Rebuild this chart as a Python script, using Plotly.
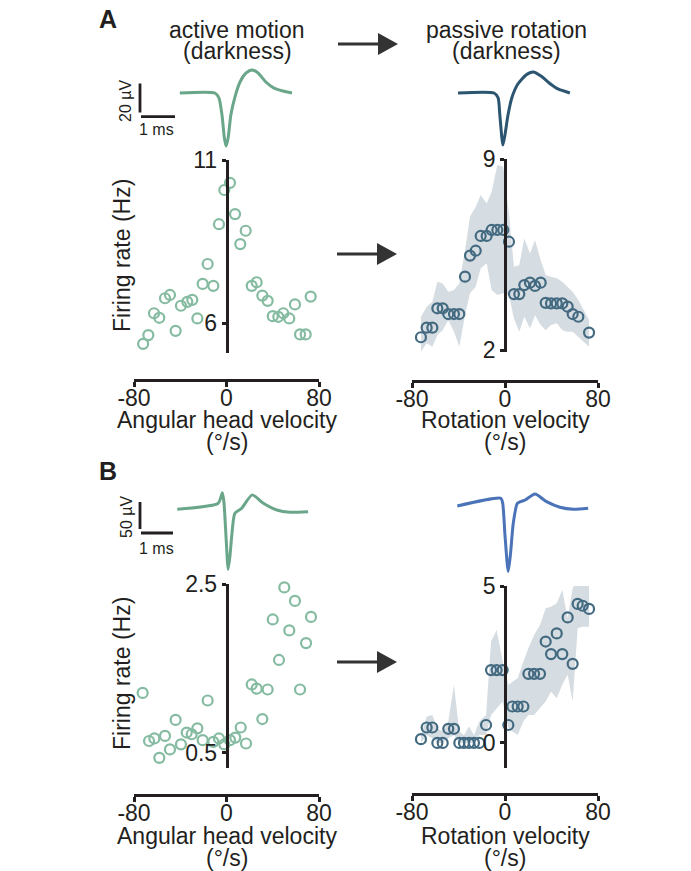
import plotly.graph_objects as go

W, H = 691, 871
INK = "#231f20"
FONT = "Liberation Sans, Arial, sans-serif"
GREEN_WF = "#6aa689"
GREEN_PT = "#85bba0"
TEAL_WF = "#2c5571"
TEAL_PT = "#436a80"
BLUE_WF = "#4a73b8"
BAND = "#d5dde2"

# ---------------- data ----------------
vel_ticks = [-80, 0, 80]
vel_tick_text = ["-80", "0", "80"]

# Panel A, active motion (darkness)
a_act_vel = [-72.1, -67.6, -62.7, -58.1, -53.2, -48.9, -44.0, -39.4, -33.9, -29.6, -25.2, -20.6,
             -16.3, -11.4, -6.5, -1.9, 3.0, 7.4, 11.9, 16.6, 21.8, 26.1, 31.0, 35.6, 40.0, 44.8,
             49.1, 54.3, 59.2, 63.6, 68.5, 72.8]
a_act_rate = [5.36, 5.63, 6.30, 6.16, 6.76, 6.86, 5.76, 6.53, 6.65, 6.71, 6.14, 7.20, 7.81, 7.14,
              9.03, 10.08, 10.30, 9.34, 8.42, 8.83, 7.14, 7.25, 6.84, 6.68, 6.21, 6.19, 6.30, 6.14,
              6.57, 5.65, 5.65, 6.81]
a_act_yticks = [6, 11]

# Panel A, passive rotation (darkness)
a_pas_vel = [-72.3, -67.4, -62.5, -58.2, -53.6, -48.8, -43.9, -39.3, -34.4, -30.1, -25.2, -20.9,
             -15.8, -11.5, -6.6, -1.5, 3.4, 7.7, 12.3, 16.6, 21.5, 25.8, 30.7, 35.0, 39.6, 44.5,
             49.3, 53.9, 58.2, 63.1, 72.3]
a_pas_rate = [2.47, 2.82, 2.82, 3.53, 3.53, 3.32, 3.32, 3.32, 4.69, 5.46, 5.64, 6.18, 6.18, 6.40,
              6.40, 6.40, 5.97, 4.05, 4.05, 4.38, 4.47, 4.35, 4.47, 3.73, 3.71, 3.71, 3.71, 3.59,
              3.32, 3.22, 2.64]
a_pas_upper = [3.22, 3.59, 3.77, 4.50, 4.44, 4.14, 4.20, 4.44, 5.67, 6.89, 7.25, 7.68, 7.37, 7.80,
               8.78, 8.72, 7.00, 5.05, 5.12, 6.09, 5.54, 6.03, 5.30, 4.75, 4.69, 4.63, 4.50, 4.32,
               4.14, 3.83, 3.10]
a_pas_lower = [1.94, 2.25, 2.12, 2.55, 2.73, 3.10, 2.67, 2.12, 3.28, 4.08, 4.32, 4.99, 5.18, 4.20,
               4.02, 4.08, 4.00, 3.16, 2.67, 3.22, 2.79, 3.28, 2.92, 2.73, 2.92, 2.98, 2.73, 2.67,
               2.67, 2.49, 2.12]
a_pas_yticks = [2, 9]

# Panel B, active motion
b_act_vel = [-72.5, -67.0, -62.4, -58.1, -53.2, -48.9, -44.0, -39.4, -34.4, -30.1, -25.2, -20.6,
             -16.3, -11.4, -6.5, -1.9, 3.0, 7.6, 12.3, 16.9, 21.8, 26.1, 31.0, 35.6, 40.0, 45.4,
             50.0, 54.3, 59.2, 63.6, 68.8, 73.1]
b_act_rate = [1.21, 0.64, 0.67, 0.44, 0.70, 0.54, 0.89, 0.60, 0.74, 0.72, 0.79, 0.65, 1.12, 0.63,
              0.67, 0.60, 0.65, 0.68, 0.80, 0.61, 1.31, 1.26, 0.90, 1.25, 2.08, 1.60, 2.46, 1.95,
              2.30, 1.25, 1.80, 2.11]
b_act_yticks = [0.5, 2.5]

# Panel B, passive rotation
b_pas_vel = [-72.3, -67.4, -62.5, -58.2, -53.6, -48.8, -43.9, -39.3, -35.3, -31.0, -26.7, -22.1,
             -16.3, -12.0, -7.2, -2.0, 2.9, 6.3, 10.9, 15.8, 20.1, 25.0, 30.1, 35.0, 39.6, 44.5,
             49.3, 53.9, 58.2, 62.5, 66.8, 72.3]
b_pas_rate = [0.12, 0.49, 0.49, 0.0, 0.0, 0.45, 0.45, 0.0, 0.0, 0.0, 0.0, 0.0, 0.57, 2.32, 2.32,
              2.32, 0.57, 1.16, 1.16, 1.16, 2.20, 2.20, 2.20, 3.23, 2.83, 3.49, 2.83, 4.00, 2.52,
              4.43, 4.37, 4.27]
b_pas_upper = [0.25, 0.84, 0.89, 0.47, 0.36, 0.68, 1.85, 0.36, 0.25, 0.52, 0.25, 0.68, 0.89, 3.23,
               3.60, 2.59, 1.85, 1.95, 2.06, 2.59, 3.02, 3.44, 3.76, 4.29, 4.34, 4.45, 4.87, 3.97,
               4.93, 5.19, 5.14, 5.08]
b_pas_lower = [0.0, 0.25, 0.15, 0.0, 0.0, 0.15, 0.25, 0.0, 0.0, 0.0, 0.0, 0.25, 0.25, 0.89, 1.10,
               1.32, 0.47, 0.36, 0.25, 0.68, 0.89, 0.89, 1.10, 1.32, 1.63, 1.42, 1.85, 2.17, 1.32,
               3.65, 3.70, 3.70]
b_pas_yticks = [0, 5]

# Spike waveforms (time in ms, amplitude in µV)
a_act_wf_t = [1.76, 2.79, 2.91, 3.00, 3.07, 3.12, 3.18, 3.26, 3.38, 3.53, 3.71, 3.88, 4.06, 4.29,
              4.53, 4.79, 5.06]
a_act_wf_uv = [0, 0, -3.4, -15.2, -31, -36.6, -31, -15.2, -2.8, 7.6, 13.8, 15.9, 13.8, 7.6, 3.4,
               1.4, 0]
a_pas_wf_t = [0.53, 1.59, 1.71, 1.76, 1.82, 1.85, 1.91, 2.00, 2.12, 2.29, 2.53, 2.74, 2.97, 3.21,
              3.47, 3.82]
a_pas_wf_uv = [0, 0, -3.4, -15.2, -31, -35.9, -29, -15.2, -2.8, 6.2, 12.4, 14.5, 11.7, 6.9, 2.8, 0]
b_act_wf_t = [1.79, 3.07, 3.20, 3.25, 3.31, 3.38, 3.44, 3.49, 3.59, 3.80, 4.13, 4.48, 4.90, 5.31,
              5.88]
b_act_wf_uv = [1.3, 12.4, 32, 13, -46, -110, -83, -49, -6, 3, 28, 12.4, 0, -4.3, -3.1]
b_pas_wf_t = [0.54, 1.90, 1.96, 2.03, 2.13, 2.20, 2.29, 2.42, 2.66, 2.97, 3.33, 3.75, 4.17, 4.63]
b_pas_wf_uv = [7.4, 21.7, 12.4, -46, -114, -83, -24.6, 12.4, 18.5, 29.6, 15.4, 5, 1.3, 3.1]

a_scale_uv, b_scale_uv, scale_ms = 20, 50, 1


# ---------------- helpers ----------------
def fx(p):
    return p / W


def fy(p):
    return 1 - p / H


fig = go.Figure()

tickfont = dict(family=FONT, size=23, color=INK)


def scatter_axes(n, xdom, x_line_y, ydom, yrange, yticks):
    xa = dict(domain=[fx(xdom[0]), fx(xdom[1])], range=[-80, 80], anchor="free",
              position=fy(x_line_y), tickvals=vel_ticks, ticktext=vel_tick_text,
              showline=True, linecolor=INK, linewidth=2.5, ticks="outside", ticklen=5,
              tickwidth=2.5, tickcolor=INK, showgrid=False, zeroline=False, tickfont=tickfont,
              fixedrange=True, automargin=False, ticklabelstandoff=-8)
    mid = (xdom[0] + xdom[1]) / 2
    ya = dict(domain=[fy(ydom[1]), fy(ydom[0])], range=yrange, anchor="free",
              position=fx(mid), tickvals=yticks, showline=True, linecolor=INK, linewidth=2.5,
              ticks="outside", ticklen=4, tickwidth=2.5, tickcolor=INK, showgrid=False,
              zeroline=False, tickfont=tickfont, fixedrange=True, automargin=False)
    s = "" if n == 1 else str(n)
    fig.update_layout(**{"xaxis" + s: xa, "yaxis" + s: ya})


def wf_axes(n, x0, width, ms_px, y_base, uv_px, top, bottom):
    xa = dict(domain=[fx(x0), fx(x0 + width)], range=[0, width / ms_px], visible=False,
              anchor="y" + str(n), fixedrange=True, automargin=False)
    ya = dict(domain=[fy(bottom), fy(top)], range=[(y_base - bottom) / uv_px, (y_base - top) / uv_px],
              visible=False, anchor="x" + str(n), fixedrange=True, automargin=False)
    fig.update_layout(**{"xaxis" + str(n): xa, "yaxis" + str(n): ya})


scatter_axes(1, (134, 319), 380, (160, 353), [5.08, 11], a_act_yticks)
scatter_axes(2, (412, 598), 381, (159, 351.7), [1.94, 9], a_pas_yticks)
scatter_axes(3, (134, 319), 795, (584, 768), [0.32, 2.5], b_act_yticks)
scatter_axes(4, (412, 598), 794, (586, 768), [-0.8, 5], b_pas_yticks)

wf_axes(5, 120, 180, 34, 93, 1.45, 60, 150)
wf_axes(6, 440, 180, 34, 93, 1.45, 60, 150)
wf_axes(7, 120, 200, 32, 510, 0.54, 480, 580)
wf_axes(8, 440, 200, 32, 510, 0.54, 480, 580)


def band(x, up, lo, xa, ya):
    fig.add_trace(go.Scatter(x=list(x) + list(x)[::-1], y=list(up) + list(lo)[::-1],
                             fill="toself", fillcolor=BAND, line=dict(width=0), mode="lines",
                             hoverinfo="skip", xaxis=xa, yaxis=ya, showlegend=False))


def pts(x, y, color, xa, ya):
    fig.add_trace(go.Scatter(x=x, y=y, mode="markers", xaxis=xa, yaxis=ya, showlegend=False,
                             cliponaxis=False,
                             marker=dict(symbol="circle-open", size=10, color=color,
                                         line=dict(width=2.2, color=color))))


def wave(t, v, color, xa, ya):
    fig.add_trace(go.Scatter(x=t, y=v, mode="lines", xaxis=xa, yaxis=ya, showlegend=False,
                             cliponaxis=False,
                             line=dict(color=color, width=3, shape="spline", smoothing=0.6)))


def bar(x, y, xa, ya):
    fig.add_trace(go.Scatter(x=x, y=y, mode="lines", xaxis=xa, yaxis=ya, showlegend=False,
                             cliponaxis=False, line=dict(color=INK, width=2.8)))


pts(a_act_vel, a_act_rate, GREEN_PT, "x", "y")
band(a_pas_vel, a_pas_upper, a_pas_lower, "x2", "y2")
pts(a_pas_vel, a_pas_rate, TEAL_PT, "x2", "y2")
pts(b_act_vel, b_act_rate, GREEN_PT, "x3", "y3")
band(b_pas_vel, b_pas_upper, b_pas_lower, "x4", "y4")
pts(b_pas_vel, b_pas_rate, TEAL_PT, "x4", "y4")

wave(a_act_wf_t, a_act_wf_uv, GREEN_WF, "x5", "y5")
wave(a_pas_wf_t, a_pas_wf_uv, TEAL_WF, "x6", "y6")
wave(b_act_wf_t, b_act_wf_uv, GREEN_WF, "x7", "y7")
wave(b_pas_wf_t, b_pas_wf_uv, BLUE_WF, "x8", "y8")

# scale bars (A: 20 µV / 1 ms, B: 50 µV / 1 ms)
bar([0.588, 0.588], [6.55, 6.55 - a_scale_uv], "x5", "y5")
bar([0.618, 0.618 + scale_ms], [-16.3, -16.3], "x5", "y5")
bar([0.625, 0.625], [14.8, 14.8 - b_scale_uv], "x7", "y7")
bar([0.656, 0.656 + scale_ms], [-42.6, -42.6], "x7", "y7")

# ---------------- text ----------------
ann = []


def txt(x, y, s, size=23, angle=0, bold=False, xanchor="center"):
    ann.append(dict(x=fx(x), y=fy(y), xref="paper", yref="paper", text=("<b>%s</b>" % s) if bold else s,
                    showarrow=False, xanchor=xanchor, yanchor="middle", textangle=angle,
                    font=dict(family=FONT, size=size, color=INK)))


txt(108, 19, "A", 25, bold=True)
txt(108, 471, "B", 25, bold=True)
txt(237, 30, "active motion")
txt(237, 51, "(darkness)")
txt(507, 30, "passive rotation")
txt(507, 51, "(darkness)")

txt(126, 101, "20 µV", 16, angle=-90)
txt(156, 129, "1 ms", 16)
txt(126, 517, "50 µV", 16, angle=-90)
txt(156, 548, "1 ms", 16)

for yc in (256, 674):
    txt(122, yc, "Firing rate (Hz)", angle=-90)

for (xc, t) in ((227, "Angular head velocity"), (505, "Rotation velocity")):
    txt(xc, 420, t)
    txt(xc, 442, "(°/s)")
    txt(xc, 836, t)
    txt(xc, 858, "(°/s)")

# ---------------- arrows ----------------
shapes = []


def arrow(xtip, y):
    shapes.append(dict(type="line", xref="paper", yref="paper", x0=fx(xtip - 60), x1=fx(xtip - 18),
                       y0=fy(y), y1=fy(y), line=dict(color="#333333", width=3)))
    path = "M %f %f L %f %f L %f %f Z" % (fx(xtip - 20), fy(y - 11), fx(xtip), fy(y),
                                          fx(xtip - 20), fy(y + 11))
    shapes.append(dict(type="path", xref="paper", yref="paper", path=path,
                       fillcolor="#333333", line=dict(width=0)))


arrow(398, 44)
arrow(397, 254)
arrow(397, 662)

fig.update_layout(template="none", width=W, height=H, margin=dict(l=0, r=0, t=0, b=0, autoexpand=False),
                  paper_bgcolor="white", plot_bgcolor="rgba(0,0,0,0)",
                  annotations=ann, shapes=shapes, showlegend=False,
                  font=dict(family=FONT, color=INK))

fig.write_html("out.html")
